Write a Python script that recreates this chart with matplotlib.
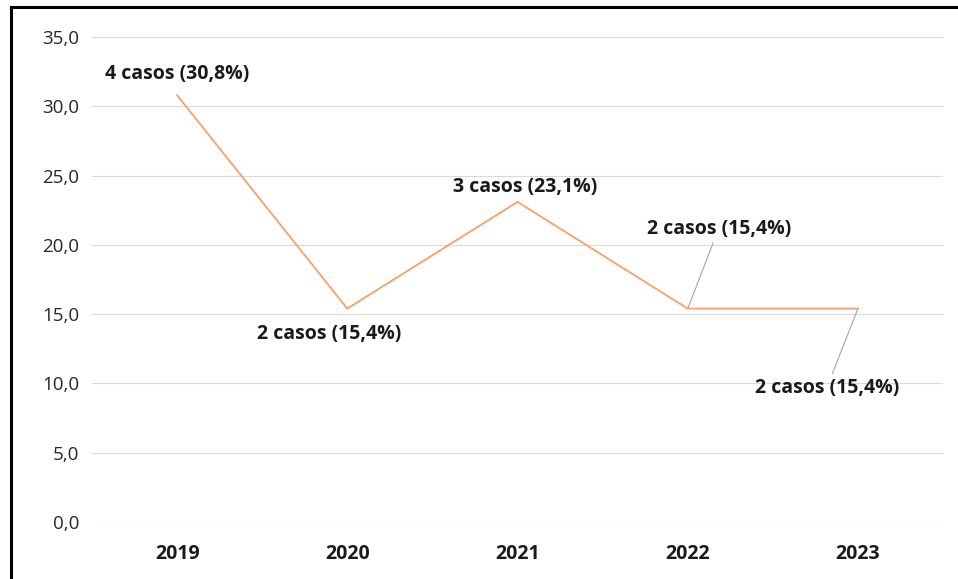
import matplotlib.pyplot as plt
from matplotlib.lines import Line2D

years = ["2019", "2020", "2021", "2022", "2023"]
casos = [4, 2, 3, 2, 2]
pct = [30.8, 15.4, 23.1, 15.4, 15.4]
# label offsets in pixels (dx, dy) from each point
offsets = [(0, 21), (-18, -25), (8, 15), (31, 80), (-31, -79)]
leader = [False, False, False, True, True]

plt.rcParams['font.family'] = ['Open Sans', 'DejaVu Sans']

fig = plt.figure(figsize=(9.58, 5.79), dpi=100)
ax = fig.add_axes([92/958, 1 - 522/579, (943 - 92)/958, (522 - 37)/579])

x = list(range(len(years)))
ax.plot(x, pct, color='#F4A674', lw=1.4, zorder=3)

ax.set_xlim(-0.5, len(years) - 0.5)
ax.set_ylim(0, 35)
ax.set_yticks([0, 5, 10, 15, 20, 25, 30, 35])
ax.set_yticklabels([f"{v:.1f}".replace('.', ',') for v in ax.get_yticks()], fontsize=13.5, color='#262626')
ax.set_xticks(x)
ax.set_xticklabels(years, fontsize=14, fontweight='bold', color='#1a1a1a')
ax.tick_params(length=0)
ax.tick_params(axis='y', pad=9)
ax.tick_params(axis='x', pad=16)
ax.grid(axis='y', color='#D9D9D9', lw=0.8)
ax.set_axisbelow(True)
for s in ax.spines.values():
    s.set_visible(False)

for i in range(len(years)):
    txt = f"{casos[i]} casos ({pct[i]:.1f}%)".replace('.', ',')
    dx, dy = offsets[i]
    kw = {}
    if leader[i]:
        kw['arrowprops'] = dict(arrowstyle='-', color='#A6A6A6', lw=0.8, shrinkA=1, shrinkB=0)
    ax.annotate(txt, (x[i], pct[i]), xytext=(dx, dy), textcoords='offset pixels',
                ha='center', va='center', fontsize=14, fontweight='bold',
                color='#1a1a1a', **kw)

# chart border (left and top only visible)
fig.add_artist(Line2D([11/958, 11/958], [0, 1 - 7/579], transform=fig.transFigure, color='black', lw=2.2))
fig.add_artist(Line2D([11/958, 1], [1 - 7/579, 1 - 7/579], transform=fig.transFigure, color='black', lw=2.2))

fig.savefig("out.png", dpi=100)
